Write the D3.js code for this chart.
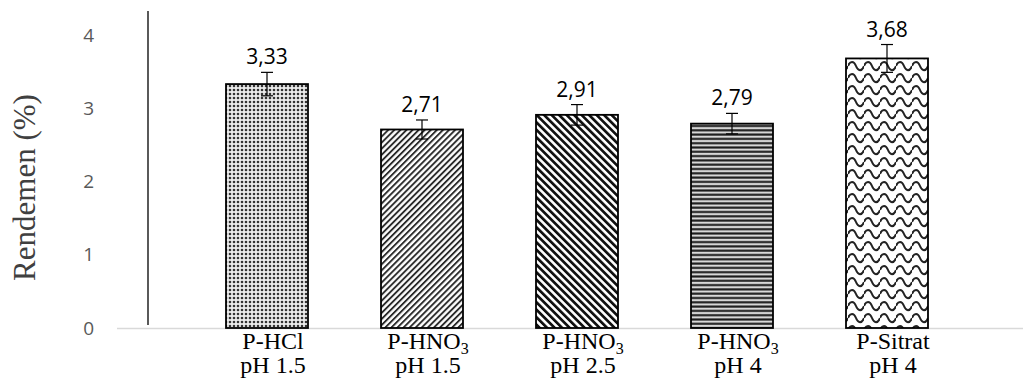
<!DOCTYPE html>
<html>
<head>
<meta charset="utf-8">
<script src="https://cdn.jsdelivr.net/npm/d3@7"></script>
<style>
  html, body { margin: 0; padding: 0; background: #fff; }
  svg { display: block; }
</style>
</head>
<body>
<div id="chart"></div>
<script>
// data
const categories = ["P-HCl pH 1.5", "P-HNO3 pH 1.5", "P-HNO3 pH 2.5", "P-HNO3 pH 4", "P-Sitrat pH 4"];
const labelLine1 = [["P-HCl", ""], ["P-HNO", "3"], ["P-HNO", "3"], ["P-HNO", "3"], ["P-Sitrat", ""]];
const labelLine2 = ["pH 1.5", "pH 1.5", "pH 2.5", "pH 4", "pH 4"];
const values = [3.33, 2.71, 2.91, 2.79, 3.68];
const errors = [0.16, 0.13, 0.14, 0.14, 0.19];
const yTicks = [0, 1, 2, 3, 4];
const patternIds = ["pat-dots", "pat-up", "pat-down", "pat-horiz", "pat-wave"];

const width = 1025, height = 385;
const baseY = 328;

const svg = d3.select("#chart").append("svg")
    .attr("width", width)
    .attr("height", height);

// fill patterns
const defs = svg.append("defs");

const dots = defs.append("pattern").attr("id", "pat-dots")
    .attr("patternUnits", "userSpaceOnUse").attr("width", 4).attr("height", 4);
dots.append("rect").attr("width", 4).attr("height", 4).attr("fill", "#ececec");
dots.append("circle").attr("cx", 2).attr("cy", 2).attr("r", 1.3).attr("fill", "#333");

const up = defs.append("pattern").attr("id", "pat-up")
    .attr("patternUnits", "userSpaceOnUse").attr("width", 4.3).attr("height", 10)
    .attr("patternTransform", "rotate(45)");
up.append("rect").attr("width", 4.3).attr("height", 10).attr("fill", "#fff");
up.append("rect").attr("width", 1.9).attr("height", 10).attr("fill", "#2b2b2b");

const down = defs.append("pattern").attr("id", "pat-down")
    .attr("patternUnits", "userSpaceOnUse").attr("width", 5.3).attr("height", 10)
    .attr("patternTransform", "rotate(-45)");
down.append("rect").attr("width", 5.3).attr("height", 10).attr("fill", "#fff");
down.append("rect").attr("width", 2.7).attr("height", 10).attr("fill", "#111");

const horiz = defs.append("pattern").attr("id", "pat-horiz")
    .attr("patternUnits", "userSpaceOnUse").attr("width", 10).attr("height", 4.3);
horiz.append("rect").attr("width", 10).attr("height", 4.3).attr("fill", "#c0c0c0");
horiz.append("rect").attr("y", 0.3).attr("width", 10).attr("height", 2).attr("fill", "#1a1a1a");
horiz.append("rect").attr("y", 3.0).attr("width", 10).attr("height", 0.8).attr("fill", "#f4f4f4");

const wave = defs.append("pattern").attr("id", "pat-wave")
    .attr("patternUnits", "userSpaceOnUse").attr("width", 16).attr("height", 12);
wave.append("rect").attr("width", 16).attr("height", 12).attr("fill", "#fff");
wave.append("path")
    .attr("d", "M0 6 C2 0.5 6 0.5 8 6 S14 11.5 16 6")
    .attr("fill", "none").attr("stroke", "#222").attr("stroke-width", 2);

// scales
const x = d3.scaleBand()
    .domain(categories)
    .range([189.5, 964.5])
    .paddingInner(0.471)
    .paddingOuter(0.2355);

const y = d3.scaleLinear().domain([0, 4]).range([baseY, 35]);

// y tick labels (no axis line drawn at the labels)
const yAxis = svg.append("g")
    .attr("transform", "translate(94,0)")
    .call(d3.axisLeft(y).tickValues(yTicks).tickSize(0).tickPadding(0).tickFormat(d3.format("d")));
yAxis.select(".domain").remove();
yAxis.selectAll("text")
    .style("font-family", "'Open Sans', sans-serif")
    .style("font-size", "19px")
    .attr("fill", "#595959");

// horizontal category axis line
svg.append("line")
    .attr("x1", 117).attr("x2", 1023)
    .attr("y1", y(0) + 0.5).attr("y2", y(0) + 0.5)
    .attr("stroke", "#d9d9d9").attr("stroke-width", 1.5);

// separate vertical line
svg.append("line")
    .attr("x1", 148).attr("x2", 148)
    .attr("y1", 11).attr("y2", y(0) - 3)
    .attr("stroke", "#000").attr("stroke-width", 1.3);

// bars
svg.selectAll("rect.bar")
    .data(values)
    .join("rect")
    .attr("class", "bar")
    .attr("x", (d, i) => x(categories[i]))
    .attr("y", d => y(d))
    .attr("width", x.bandwidth())
    .attr("height", d => y(0) - y(d))
    .attr("fill", (d, i) => `url(#${patternIds[i]})`)
    .attr("stroke", "#000")
    .attr("stroke-width", 1.8);

// error bars
const cx = i => x(categories[i]) + x.bandwidth() / 2;
const err = svg.append("g").attr("stroke", "#000").attr("stroke-width", 1.2);
values.forEach((v, i) => {
    const top = y(v + errors[i]);
    const bot = y(v - errors[i]);
    err.append("line").attr("x1", cx(i)).attr("x2", cx(i)).attr("y1", top).attr("y2", bot);
    err.append("line").attr("x1", cx(i) - 6).attr("x2", cx(i) + 6).attr("y1", top).attr("y2", top);
    err.append("line").attr("x1", cx(i) - 6).attr("x2", cx(i) + 6).attr("y1", bot).attr("y2", bot);
});

// value labels
svg.selectAll("text.val")
    .data(values)
    .join("text")
    .attr("class", "val")
    .attr("x", (d, i) => cx(i))
    .attr("y", (d, i) => y(d + errors[i]) - 8)
    .attr("text-anchor", "middle")
    .attr("font-family", "'Open Sans', sans-serif")
    .attr("font-size", 21)
    .attr("fill", "#000")
    .text(d => d3.format(".2f")(d).replace(".", ","));

// category labels
const lab = svg.append("g")
    .attr("font-family", "'Liberation Serif', 'Times New Roman', serif")
    .attr("font-size", 24)
    .attr("fill", "#000")
    .attr("text-anchor", "middle");
categories.forEach((c, i) => {
    const t1 = lab.append("text").attr("x", cx(i) + 6).attr("y", 349);
    t1.append("tspan").text(labelLine1[i][0]);
    if (labelLine1[i][1]) {
        t1.append("tspan").attr("font-size", 16).attr("dy", 5).text(labelLine1[i][1]);
    }
    lab.append("text").attr("x", cx(i) + 6).attr("y", 373).text(labelLine2[i]);
});

// y title
svg.append("text")
    .attr("transform", `translate(35,${(y(0) + y(4)) / 2 + 6}) rotate(-90)`)
    .attr("text-anchor", "middle")
    .attr("font-family", "'Liberation Serif', 'Times New Roman', serif")
    .attr("font-size", 31)
    .attr("fill", "#404040")
    .text("Rendemen (%)");
</script>
</body>
</html>
